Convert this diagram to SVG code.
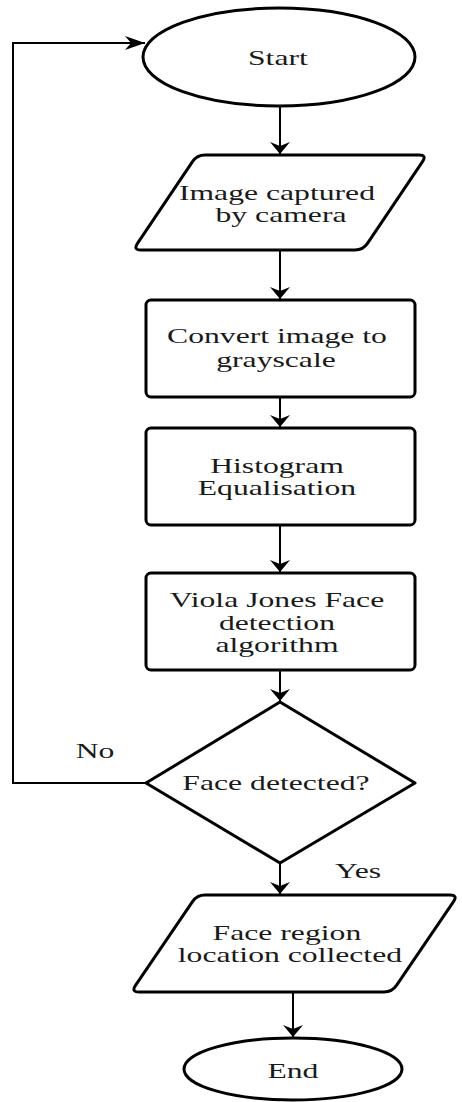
<svg xmlns="http://www.w3.org/2000/svg" width="462" height="1102" viewBox="0 0 462 1102">
<style>
.shape{fill:#fff;stroke:#000;stroke-width:3;stroke-linejoin:round}
.conn{fill:none;stroke:#000;stroke-width:2}
.t{font-family:"Liberation Serif","Times New Roman",serif;font-size:22px;fill:#1a1a1a;text-anchor:middle;transform-box:fill-box;transform-origin:center;transform:scaleX(1.44)}
</style>
<defs>
<marker id="ad" viewBox="0 0 12 20" refX="12" refY="10" markerWidth="12" markerHeight="20" markerUnits="userSpaceOnUse" orient="auto">
<path d="M0,0 L12,10 L0,20 L4,10 Z" fill="#000"/>
</marker>
<marker id="ar" viewBox="0 0 20 14" refX="20" refY="7" markerWidth="20" markerHeight="14" markerUnits="userSpaceOnUse" orient="auto">
<path d="M0,0 L20,7 L0,14 L6,7 Z" fill="#000"/>
</marker>
</defs>
<rect width="462" height="1102" fill="#fff"/>
<g id="connectors">
<path class="conn" d="M280 106 V154" marker-end="url(#ad)"/>
<path class="conn" d="M280 250 V299" marker-end="url(#ad)"/>
<path class="conn" d="M280 397 V427" marker-end="url(#ad)"/>
<path class="conn" d="M280 525 V572" marker-end="url(#ad)"/>
<path class="conn" d="M280 670 V701" marker-end="url(#ad)"/>
<path class="conn" d="M280 863 V894" marker-end="url(#ad)"/>
<path class="conn" d="M293 992 V1037" marker-end="url(#ad)"/>
<path class="conn" d="M147 783 H13 V43 H145" marker-end="url(#ar)"/>
<text class="t" x="95" y="758">No</text>
<text class="t" x="358" y="878">Yes</text>
</g>
<g id="start">
<ellipse class="shape" cx="279" cy="57" rx="136" ry="49"/>
<text class="t" x="278" y="65">Start</text>
</g>
<g id="capture">
<path class="shape" d="M205 155 L419 155 Q427 155 422.5 161.6 L367.5 243.4 Q363 250 355 250 L141 250 Q133 250 137.5 243.4 L192.5 161.6 Q197 155 205 155 Z"/>
<text class="t" x="277" y="200">Image captured</text>
<text class="t" x="281" y="222">by camera</text>
</g>
<g id="grayscale">
<rect class="shape" x="146" y="300" width="269" height="97" rx="5"/>
<text class="t" x="277" y="343">Convert image to</text>
<text class="t" x="276" y="367">grayscale</text>
</g>
<g id="histogram">
<rect class="shape" x="146" y="428" width="269" height="97" rx="5"/>
<text class="t" x="277" y="473">Histogram</text>
<text class="t" x="277" y="495">Equalisation</text>
</g>
<g id="viola">
<rect class="shape" x="146" y="573" width="269" height="97" rx="5"/>
<text class="t" x="277" y="607">Viola Jones Face</text>
<text class="t" x="277" y="630">detection</text>
<text class="t" x="277" y="652">algorithm</text>
</g>
<g id="decision">
<path class="shape" d="M280 702 L415 783 L280 863 L146 783 Z"/>
<text class="t" x="276" y="790">Face detected?</text>
</g>
<g id="region">
<path class="shape" d="M205 895 L450 895 Q458 895 453.5 901.6 L396.5 985.4 Q392 992 384 992 L139 992 Q131 992 135.5 985.4 L192.5 901.6 Q197 895 205 895 Z"/>
<text class="t" x="287" y="940">Face region</text>
<text class="t" x="290" y="962">location collected</text>
</g>
<g id="end">
<ellipse class="shape" cx="293" cy="1069" rx="109" ry="31"/>
<text class="t" x="293" y="1078">End</text>
</g>
</svg>
